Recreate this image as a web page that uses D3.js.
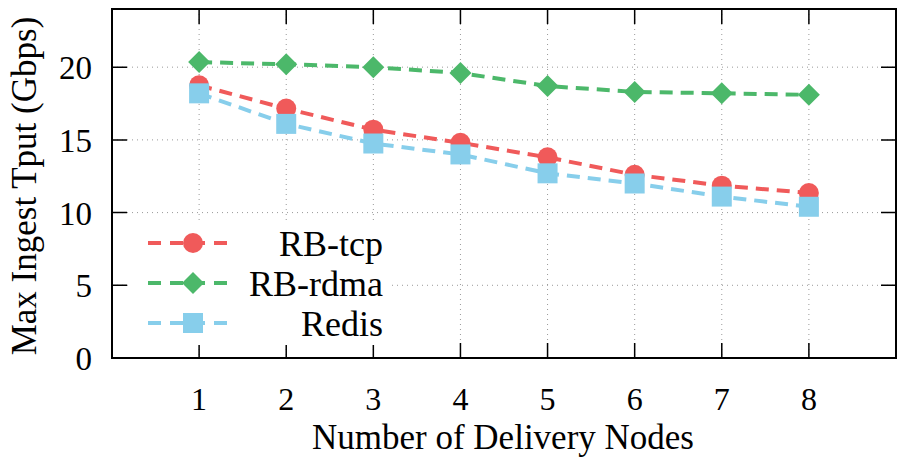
<!DOCTYPE html>
<html>
<head>
<meta charset="utf-8">
<script src="https://cdn.jsdelivr.net/npm/d3@7"></script>
<style>
  body { margin: 0; background: #fff; }
  text { font-family: "Liberation Serif", "DejaVu Serif", serif; fill: #000; }
</style>
</head>
<body>
<div id="chart"></div>
<script>
var nodes = [1, 2, 3, 4, 5, 6, 7, 8]
var rbTcp = [18.75, 17.15, 15.7, 14.8, 13.8, 12.6, 11.85, 11.35]
var rbRdma = [20.35, 20.2, 20.0, 19.6, 18.7, 18.3, 18.2, 18.1]
var redis = [18.2, 16.1, 14.75, 14.0, 12.7, 12.0, 11.1, 10.4]
var yTicks = [0, 5, 10, 15, 20]

var series = [
  {name: 'RB-tcp', values: rbTcp, color: '#f05a5a', shape: 'circle'},
  {name: 'RB-rdma', values: rbRdma, color: '#4cb86a', shape: 'diamond'},
  {name: 'Redis', values: redis, color: '#87ceeb', shape: 'square'}
]

var W = 897, H = 457
var m = {left: 112, right: 1, top: 9, bottom: 99}
var width = W - m.left - m.right, height = H - m.top - m.bottom

var svg = d3.select('#chart').append('svg').attr('width', W).attr('height', H)
var g = svg.append('g').attr('transform', 'translate(' + m.left + ',' + m.top + ')')

var x = d3.scaleLinear().domain([0, 9]).range([0, width])
var y = d3.scaleLinear().domain([0, 24]).range([height, 0])

// grid
g.selectAll('.gy').data(yTicks.filter(function(d){ return d > 0 })).enter().append('line')
  .attr('x1', 0).attr('x2', width).attr('y1', y).attr('y2', y)
  .attr('stroke', '#999').attr('stroke-width', 1).attr('stroke-dasharray', '1,4')
g.selectAll('.gx').data(nodes).enter().append('line')
  .attr('x1', x).attr('x2', x).attr('y1', 0).attr('y2', height)
  .attr('stroke', '#999').attr('stroke-width', 1).attr('stroke-dasharray', '1,4')

// ticks (inward, mirrored)
var tl = 15
g.selectAll('.tx').data(nodes).enter().append('path')
  .attr('d', function(d){ return 'M' + x(d) + ',' + height + 'v' + (-tl) + 'M' + x(d) + ',0v' + tl })
  .attr('stroke', '#000').attr('stroke-width', 1.5)
g.selectAll('.ty').data(yTicks).enter().append('path')
  .attr('d', function(d){ return 'M0,' + y(d) + 'h' + tl + 'M' + width + ',' + y(d) + 'h' + (-tl) })
  .attr('stroke', '#000').attr('stroke-width', 1.5)

g.selectAll('.lx').data(nodes).enter().append('text')
  .attr('x', x).attr('y', height + 52).attr('text-anchor', 'middle')
  .style('font-size', '32px').text(function(d){ return d })
g.selectAll('.ly').data(yTicks).enter().append('text')
  .attr('x', -20).attr('y', function(d){ return y(d) + 12 }).attr('text-anchor', 'end')
  .style('font-size', '33px').text(function(d){ return d })

svg.append('text').attr('x', 503).attr('y', 449).attr('text-anchor', 'middle')
  .style('font-size', '35px').text('Number of Delivery Nodes')
svg.append('text').attr('transform', 'translate(36,186) rotate(-90)')
  .attr('text-anchor', 'middle').style('font-size', '35px').text('Max Ingest Tput (Gbps)')

function marker(sel, shape, color){
  if (shape == 'circle') sel.append('circle').attr('r', 10).attr('fill', color)
  else if (shape == 'diamond') sel.append('path').attr('d', 'M0,-11L11,0L0,11L-11,0Z').attr('fill', color)
  else sel.append('rect').attr('x', -10).attr('y', -10).attr('width', 20).attr('height', 20).attr('fill', color)
}

var line = d3.line().x(function(d, i){ return x(nodes[i]) }).y(function(d){ return y(d) })

series.forEach(function(s){
  g.append('path').attr('d', line(s.values)).attr('fill', 'none')
    .attr('stroke', s.color).attr('stroke-width', 4).attr('stroke-dasharray', '13,8')
  s.values.forEach(function(v, i){
    var mg = g.append('g').attr('transform', 'translate(' + x(nodes[i]) + ',' + y(v) + ')')
    marker(mg, s.shape, s.color)
  })
})

// legend
var lg = svg.append('g')
lg.append('rect').attr('x', 130).attr('y', 224).attr('width', 260).attr('height', 121).attr('fill', '#fff')
series.forEach(function(s, i){
  var ly = 243 + i * 40
  lg.append('line').attr('x1', 148).attr('x2', 227).attr('y1', ly).attr('y2', ly)
    .attr('stroke', s.color).attr('stroke-width', 4).attr('stroke-dasharray', '13,9')
  var mg = lg.append('g').attr('transform', 'translate(193,' + ly + ')')
  marker(mg, s.shape, s.color)
  lg.append('text').attr('x', 383).attr('y', ly + 13).attr('text-anchor', 'end')
    .style('font-size', '36px').text(s.name)
})

// frame
g.append('rect').attr('width', width).attr('height', height)
  .attr('fill', 'none').attr('stroke', '#000').attr('stroke-width', 2)
</script>
</body>
</html>
